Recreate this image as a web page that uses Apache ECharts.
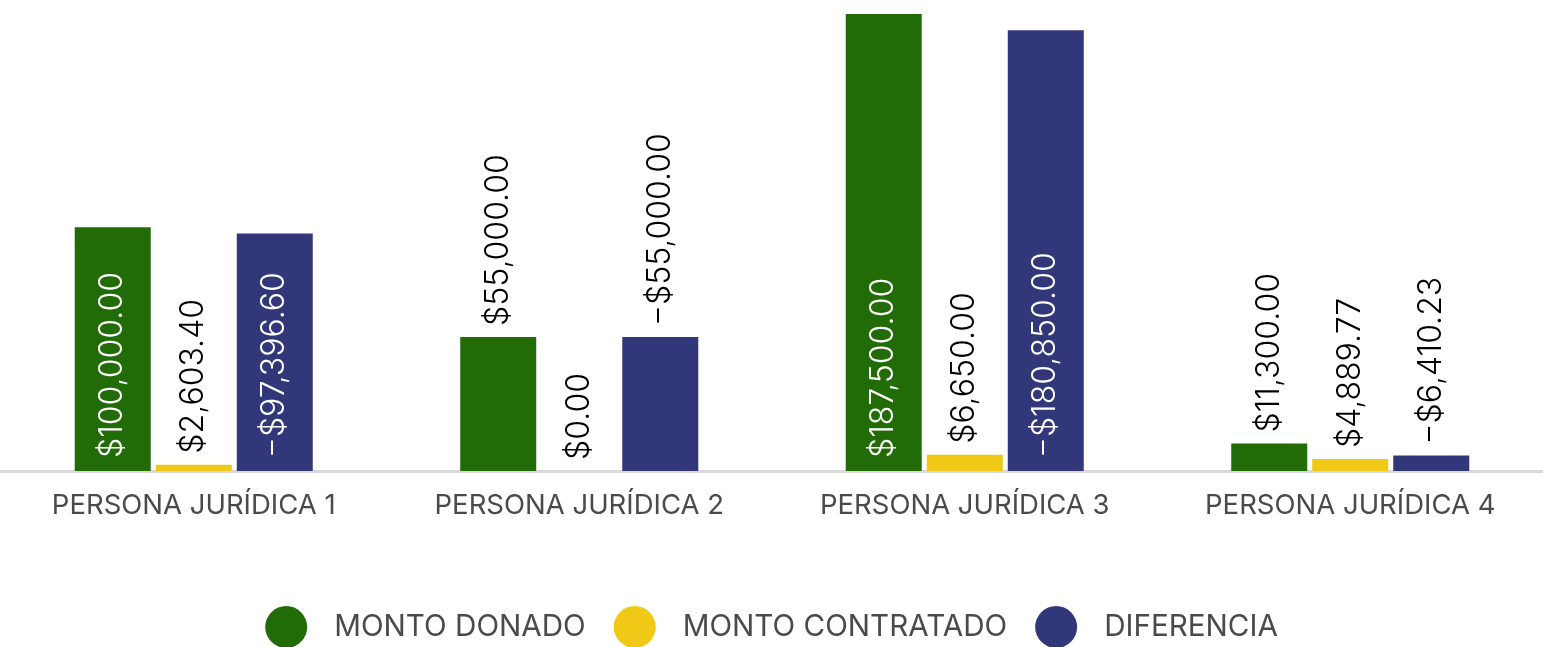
<!DOCTYPE html>
<html>
<head>
<meta charset="utf-8">
<style>
  html, body { margin: 0; padding: 0; background: #ffffff; }
  #chart { width: 1543px; height: 647px; }
</style>
<script src="https://cdn.jsdelivr.net/npm/echarts@6/dist/echarts.min.js"></script>
</head>
<body>
<div id="chart"></div>
<script>
const categories = ['PERSONA JURÍDICA 1', 'PERSONA JURÍDICA 2', 'PERSONA JURÍDICA 3', 'PERSONA JURÍDICA 4'];
const seriesNames = ['MONTO DONADO', 'MONTO CONTRATADO', 'DIFERENCIA'];
const montoDonado = [100000, 55000, 187500, 11300];
const montoContratado = [2603.40, 0, 6650, 4889.77];
const diferencia = [-97396.60, -55000, -180850, -6410.23];
const colors = ['#226c07', '#efc916', '#313778'];

const uiFont = 'Inter';
const labelFont = 'Inter';
const labelSize = 32;

function money(v) {
  const s = Math.abs(v).toLocaleString('en-US', { minimumFractionDigits: 2, maximumFractionDigits: 2 });
  return (v < 0 ? '\u2212$' : '$') + s;
}

const chart = echarts.init(document.getElementById('chart'));

// Bars are drawn by magnitude; the label keeps the signed amount.
// A label sits inside the bar when the bar is tall enough for it, otherwise above it.
const plotHeight = 457;
const yMax = 187500;
function buildData(values) {
  return values.map(function (v) {
    const text = money(v);
    const barPx = Math.abs(v) / yMax * plotHeight;
    const textPx = text.length * labelSize * 0.55;
    const inside = barPx > textPx + 25;
    return {
      value: Math.abs(v),
      label: inside
        ? { position: 'insideBottom', distance: 13, color: '#ffffff', formatter: text }
        : { position: 'top', distance: 11, color: '#000000', formatter: text }
    };
  });
}

const allValues = [montoDonado, montoContratado, diferencia];

chart.setOption({
  animation: false,
  color: colors,
  grid: { left: 1, top: 14, width: 1546, height: plotHeight, containLabel: false },
  legend: {
    bottom: -6,
    left: 'center',
    icon: 'circle',
    itemWidth: 42,
    itemHeight: 42,
    itemGap: 28,
    textStyle: { fontFamily: uiFont, fontSize: 29.6, color: '#4a4a4a', padding: [0, 0, 0, 22] },
    data: seriesNames
  },
  xAxis: {
    type: 'category',
    data: categories,
    axisLine: { lineStyle: { color: '#d9d9d9', width: 3 } },
    axisTick: { show: false },
    axisLabel: { fontFamily: uiFont, fontSize: 27.5, color: '#4a4a4a', margin: 21 }
  },
  yAxis: {
    type: 'value',
    min: 0,
    max: yMax,
    show: false,
    splitLine: { show: false }
  },
  series: allValues.map(function (vals, i) {
    return {
      name: seriesNames[i],
      type: 'bar',
      barWidth: 76,
      barGap: '6.6%',
      data: buildData(vals),
      label: {
        show: true,
        rotate: 90,
        align: 'left',
        verticalAlign: 'middle',
        fontFamily: labelFont,
        fontWeight: 300,
        fontSize: labelSize
      }
    };
  })
});
</script>
</body>
</html>
